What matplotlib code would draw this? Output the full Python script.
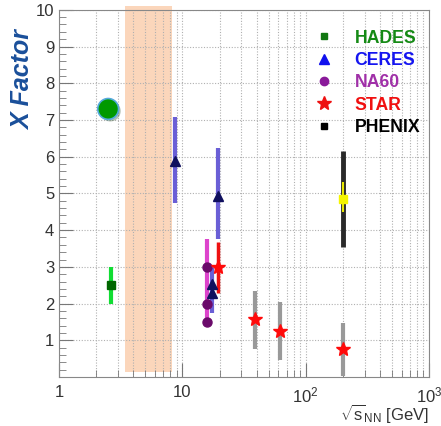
import matplotlib.pyplot as plt
import matplotlib.patheffects as pe
from matplotlib.lines import Line2D
from matplotlib.ticker import LogLocator, MultipleLocator, FixedLocator, NullFormatter

plt.switch_backend("Agg")
plt.rcParams["font.family"] = ["Liberation Sans", "DejaVu Sans"]
plt.rcParams["mathtext.fontset"] = "custom"
plt.rcParams["mathtext.rm"] = "Liberation Sans"
plt.rcParams["mathtext.it"] = "Liberation Sans:italic"

# HADES measurement and prediction
hades_x = [2.65]
hades_y = [2.5]
hades_lo = [2.0]
hades_hi = [3.0]
hades_pred_x = [2.5]
hades_pred_y = [7.3]

# shaded energy range
band_x = [3.42, 8.2]
band_y = [0.14, 10.1]

# CERES
ceres_x = [8.7, 19.6, 17.3, 17.3]
ceres_y = [5.87, 4.94, 2.53, 2.28]
ceres_bar_x = [8.7, 19.6, 17.3]
ceres_bar_lo = [4.73, 3.75, 1.75]
ceres_bar_hi = [7.07, 6.23, 2.97]

# NA60
na60_x = [15.8, 15.8, 15.8]
na60_y = [3.0, 2.0, 1.5]
na60_bar_x = [15.8]
na60_bar_lo = [1.5]
na60_bar_hi = [3.75]

# STAR
star_x = [19.6, 39.0, 62.4, 200.0]
star_y = [3.0, 1.57, 1.26, 0.77]
star_lo = [2.3, 0.75, 0.45, 0.03]
star_hi = [3.69, 2.34, 2.04, 1.46]

# PHENIX
phenix_x = [200.0]
phenix_y = [4.84]
phenix_sys_lo = [3.55]
phenix_sys_hi = [6.16]
phenix_stat_lo = [4.5]
phenix_stat_hi = [5.3]

legend_labels = ["HADES", "CERES", "NA60", "STAR", "PHENIX"]
legend_colors = ["#158a15", "#1515f0", "#a030a8", "#f01010", "#000000"]
star_bar_colors = ["#ee1111", "#999999", "#999999", "#999999"]


def main() -> None:
    fig = plt.figure(figsize=(4.41, 4.26), dpi=100)
    ax = fig.add_axes([0.134, 0.115, 0.839, 0.862])
    ax.set_xscale("log")
    ax.set_xlim(1, 1000)
    ax.set_ylim(0, 10)

    ax.fill_betweenx(band_y, band_x[0], band_x[1], color="#fbd6bb",
                     zorder=0.2, clip_on=False, lw=0)

    # vertical bars
    ax.vlines(hades_x, hades_lo, hades_hi, color="#11dd33", lw=3, zorder=3)
    ax.vlines(ceres_bar_x, ceres_bar_lo, ceres_bar_hi, color="#6a5fd6", lw=3, zorder=3)
    ax.vlines(na60_bar_x, na60_bar_lo, na60_bar_hi, color="#dd44cc", lw=3, zorder=3)
    ax.vlines(star_x, star_lo, star_hi, color=star_bar_colors, lw=[2.5, 3, 3, 3], zorder=3)
    ax.vlines(phenix_x, phenix_sys_lo, phenix_sys_hi, color="#2a2a2a", lw=3.5, zorder=3)
    ax.vlines(phenix_x, phenix_stat_lo, phenix_stat_hi, color="#e8e800", lw=1.5, zorder=3.5)

    # markers
    ax.plot(hades_pred_x, hades_pred_y, "o", ms=15, color="#009900", mec="#55aadd",
            mew=1.2, zorder=4,
            path_effects=[pe.SimplePatchShadow(offset=(1.5, -1.5), alpha=0.3), pe.Normal()])
    ax.plot(hades_x, hades_y, "s", ms=5.5, color="#006600", zorder=4)
    ax.plot(ceres_x, ceres_y, "^", ms=6.5, color="#10105e", zorder=4)
    ax.plot(na60_x, na60_y, "o", ms=6.5, color="#6a0a6a", zorder=4)
    ax.plot(star_x, star_y, "*", ms=10, color="#ff0a0a", zorder=4)
    ax.plot(phenix_x, phenix_y, "s", ms=5.5, color="#f5f500", zorder=4)

    # grid and ticks
    ax.set_axisbelow(True)
    ax.yaxis.set_minor_locator(MultipleLocator(0.2))
    ax.xaxis.set_minor_locator(LogLocator(base=10, subs=range(2, 10)))
    ax.xaxis.set_minor_formatter(NullFormatter())
    ax.yaxis.set_major_locator(FixedLocator(range(1, 11)))
    ax.grid(True, which="major", axis="y", ls=(0, (1, 1.5)), color="#b0b0b0", lw=0.8)
    ax.grid(True, which="both", axis="x", ls=(0, (1, 1.5)), color="#b0b0b0", lw=0.8)
    ax.tick_params(which="both", direction="in", top=False, right=False,
                   color="#777777", labelcolor="#333333", labelsize=12)
    ax.tick_params(which="major", length=10)
    ax.tick_params(which="minor", length=5)
    ax.tick_params(axis="x", pad=6)
    ax.set_xticks([1, 10, 100, 1000], ["1", "10", r"$10^2$", r"$10^3$"])
    for s in ax.spines.values():
        s.set_color("#888888")

    ax.set_ylabel("X Factor", fontsize=18, fontweight="bold", fontstyle="italic",
                  color="#1a4f9a", loc="top")
    ax.yaxis.set_label_coords(-0.066, 0.946)
    ax.set_xlabel(r"$\sqrt{\mathrm{s}}_{\mathrm{NN}}$ [GeV]", fontsize=12,
                  color="#333333", loc="right", labelpad=-2)

    handles = [
        Line2D([], [], ls="", marker="s", ms=4, color="#117711"),
        Line2D([], [], ls="", marker="^", ms=7, color="#1010ee"),
        Line2D([], [], ls="", marker="o", ms=6, color="#8a1a9a"),
        Line2D([], [], ls="", marker="*", ms=10, color="#ee1111"),
        Line2D([], [], ls="", marker="s", ms=4, color="#000000"),
    ]
    leg = ax.legend(handles, legend_labels, loc="upper right",
                    bbox_to_anchor=(1.0, 0.97), frameon=False,
                    prop={"weight": "bold", "size": 12.7},
                    handlelength=1.0, handletextpad=1.25, labelspacing=0.3,
                    borderaxespad=0.1)
    for t, c in zip(leg.get_texts(), legend_colors):
        t.set_color(c)

    fig.savefig("out.png", dpi=100)
    plt.close(fig)


if __name__ == "__main__":
    main()
